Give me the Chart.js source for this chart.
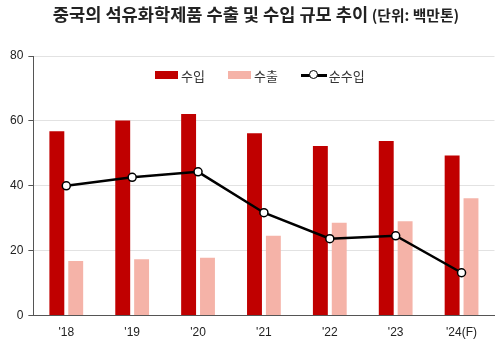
<!DOCTYPE html>
<html>
<head>
<meta charset="utf-8">
<script src="https://cdn.jsdelivr.net/npm/chart.js@4"></script>
<style>
  html, body { margin: 0; padding: 0; background: #fff; }
  #wrap { position: relative; width: 500px; height: 349px; overflow: hidden; }
  #chart { position: absolute; left: 0; top: 0; }
  #title {
    position: absolute; left: 6px; top: 1px; width: 500px; text-align: center;
    font-family: 'Noto Sans CJK KR', sans-serif; color: #222; white-space: nowrap;
  }
  #title .main { font-size: 17.6px; font-weight: 700; }
  #title .unit { font-size: 14.8px; font-weight: 700; }
  #legend {
    position: absolute; top: 66px; left: 155px; height: 18px;
    font-family: 'Noto Sans CJK KR', sans-serif; font-size: 13px; color: #333;
    display: flex; align-items: center; white-space: nowrap;
  }
  .item { display: flex; align-items: center; margin-right: 23px; }
  .box { width: 23px; height: 8px; margin-right: 3px; }
  .lineSym { position: relative; width: 26px; height: 10px; margin-right: 2px; }
  .lineSym .l { position: absolute; left: 0; right: 0; top: 4px; height: 2.5px; background: #000; }
  .lineSym .c { position: absolute; left: 8px; top: 0; width: 7px; height: 7px; border: 1.5px solid #000; border-radius: 50%; background: #fff; }
</style>
</head>
<body>
<div id="wrap">
  <canvas id="chart" width="500" height="349"></canvas>
  <div id="title"><span class="main">중국의 석유화학제품 수출 및 수입 규모 추이</span> <span class="unit">(단위: 백만톤)</span></div>
  <div id="legend">
    <div class="item"><div class="box" style="background:#C00000"></div>수입</div>
    <div class="item"><div class="box" style="background:#F5B3A8"></div>수출</div>
    <div class="item"><div class="lineSym"><div class="l"></div><div class="c"></div></div>순수입</div>
  </div>
</div>
<script>
// ---- Data (million tons) ----
const years = ["'18", "'19", "'20", "'21", "'22", "'23", "'24(F)"];
const imports = [56.8, 60.1, 62.1, 56.2, 52.3, 53.8, 49.3];
const exports = [16.8, 17.4, 17.8, 24.6, 28.6, 29.1, 36.2];
const netImports = [40.0, 42.6, 44.3, 31.7, 23.7, 24.6, 13.2];
const yTicks = [0, 20, 40, 60, 80];

const tickFont = { family: "'Liberation Sans', Arial, sans-serif", size: 12 };

new Chart(document.getElementById('chart'), {
  type: 'bar',
  data: {
    labels: years,
    datasets: [
      {
        type: 'line',
        label: '순수입',
        data: netImports,
        borderColor: '#000',
        borderWidth: 2.5,
        pointRadius: 4,
        pointBackgroundColor: '#fff',
        pointBorderColor: '#000',
        pointBorderWidth: 1.5,
        tension: 0,
        fill: false,
        order: 0,
      },
      {
        label: '수입',
        data: imports,
        backgroundColor: '#C00000',
        categoryPercentage: 0.573,
        barPercentage: 0.79,
        order: 1,
      },
      {
        label: '수출',
        data: exports,
        backgroundColor: '#F5B3A8',
        categoryPercentage: 0.573,
        barPercentage: 0.79,
        order: 2,
      }
    ]
  },
  options: {
    responsive: false,
    animation: false,
    layout: { padding: { top: 56, right: 3, left: 5, bottom: 7 } },
    plugins: {
      legend: { display: false },
      title: { display: false },
      tooltip: { enabled: false }
    },
    scales: {
      x: {
        grid: { display: false },
        border: { display: true, color: '#555', width: 1 },
        ticks: { font: tickFont, color: '#222', padding: 2 }
      },
      y: {
        min: 0,
        max: 80,
        afterBuildTicks: axis => { axis.ticks = yTicks.map(v => ({ value: v })); },
        grid: { color: '#e2e2e2', tickColor: '#555', tickLength: 5 },
        border: { display: true, color: '#555', width: 1 },
        ticks: { font: tickFont, color: '#222', padding: 5 }
      }
    }
  }
});
</script>
</body>
</html>
